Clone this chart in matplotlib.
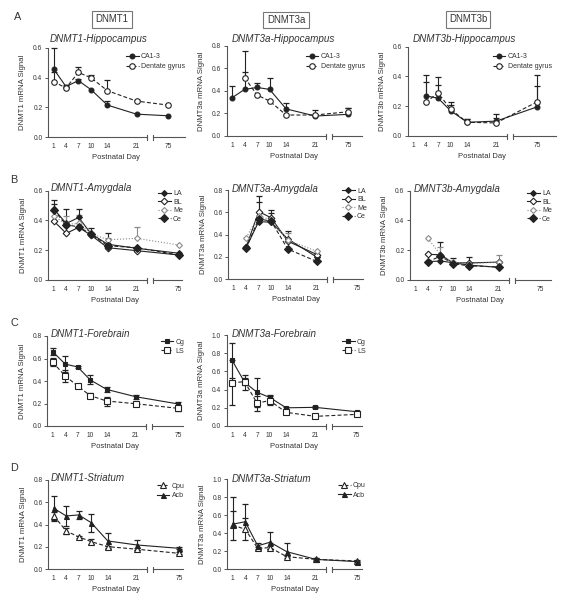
import numpy as np
import matplotlib
matplotlib.use("Agg")
import matplotlib.pyplot as plt
from matplotlib.patches import Rectangle

W, H = 566, 599
plt.rcParams['font.family'] = ['Liberation Sans', 'DejaVu Sans']

nan = np.nan
days = np.array([1, 4, 7, 10, 14, 21, 75], float)
tick_days = [1, 4, 7, 10, 14, 21, 75]
tick_labels = ['1', '4', '7', '10', '14', '21', '75']
headers = ['DNMT1', 'DNMT3a', 'DNMT3b']

# ---------- A: Hippocampus ----------
hip1_ca = [0.46, 0.34, 0.38, 0.32, 0.215, 0.154, 0.143]
hip1_ca_err = [0.14, 0.01, 0.01, 0.0, 0.03, 0.0, 0.0]
hip1_dg = [0.374, 0.33, 0.435, 0.40, 0.312, 0.242, 0.215]
hip1_dg_err = [0.066, 0.01, 0.04, 0.015, 0.07, 0.01, 0.0]

hip3a_ca = [0.34, 0.413, 0.43, 0.413, 0.24, 0.177, 0.192]
hip3a_ca_err = [0.10, 0.157, 0.04, 0.105, 0.055, 0.05, 0.06]
hip3a_dg = [nan, 0.517, 0.363, 0.31, 0.186, 0.186, 0.215]
hip3a_dg_err = [0, 0.24, 0.0, 0.0, 0.0, 0.0, 0.03]

hip3b_ca = [nan, 0.27, 0.254, 0.17, 0.092, 0.10, 0.196]
hip3b_ca_err = [0, 0.14, 0.086, 0.06, 0.02, 0.045, 0.14]
hip3b_dg = [nan, 0.226, 0.289, 0.18, 0.092, 0.088, 0.23]
hip3b_dg_err = [0, 0.134, 0.11, 0.03, 0.02, 0.03, 0.18]

# ---------- B: Amygdala ----------
amy1_la = [0.477, 0.38, 0.42, 0.31, 0.24, 0.213, 0.18]
amy1_la_err = [0.06, 0.097, 0.057, 0.037, 0.078, 0.0, 0.0]
amy1_bl = [0.396, 0.313, 0.354, 0.30, 0.217, 0.197, 0.168]
amy1_bl_err = [0, 0, 0, 0, 0, 0, 0]
amy1_me = [0.432, 0.374, 0.38, 0.313, 0.27, 0.28, 0.235]
amy1_me_err = [0.0, 0.056, 0.057, 0.0, 0.014, 0.074, 0.0]
amy1_ce = [0.47, 0.37, 0.358, 0.307, 0.23, 0.217, 0.168]
amy1_ce_err = [0.04, 0.0, 0.0, 0.0, 0.0, 0.0, 0.0]

amy3a_la = [nan, 0.284, 0.516, 0.51, 0.36, 0.197, nan]
amy3a_la_err = [0, 0.0, 0.23, 0.11, 0.07, 0.0, 0]
amy3a_bl = [nan, 0.29, 0.606, 0.55, 0.34, 0.22, nan]
amy3a_bl_err = [0, 0.0, 0.09, 0.04, 0.0, 0.0, 0]
amy3a_me = [nan, 0.373, 0.57, 0.53, 0.35, 0.248, nan]
amy3a_me_err = [0, 0.0, 0.0, 0.0, 0.06, 0.0, 0]
amy3a_ce = [nan, 0.28, 0.54, 0.52, 0.269, 0.158, nan]
amy3a_ce_err = [0, 0, 0, 0, 0, 0, 0]

amy3b_la = [nan, 0.123, 0.128, 0.116, 0.10, 0.085, nan]
amy3b_la_err = [0, 0.0, 0.13, 0.03, 0.0, 0.0, 0]
amy3b_bl = [nan, 0.172, 0.17, 0.116, 0.115, 0.12, nan]
amy3b_bl_err = [0, 0.0, 0.0, 0.0, 0.04, 0.0, 0]
amy3b_me = [nan, 0.28, 0.17, 0.12, 0.11, 0.12, nan]
amy3b_me_err = [0, 0.0, 0.054, 0.0, 0.0, 0.05, 0]
amy3b_ce = [nan, 0.123, 0.16, 0.11, 0.095, 0.088, nan]
amy3b_ce_err = [0, 0, 0, 0, 0, 0, 0]

# ---------- C: Forebrain ----------
fb1_cg = [0.66, 0.55, 0.525, 0.41, 0.325, 0.26, 0.196]
fb1_cg_err = [0.03, 0.07, 0.01, 0.04, 0.02, 0.02, 0.015]
fb1_ls = [0.566, 0.444, 0.356, 0.27, 0.222, 0.198, 0.157]
fb1_ls_err = [0.035, 0.05, 0.01, 0.02, 0.04, 0.01, 0.02]

fb3a_cg = [0.72, 0.48, 0.37, 0.315, 0.20, 0.205, 0.157]
fb3a_cg_err = [0.19, 0.08, 0.16, 0.03, 0.01, 0.01, 0.01]
fb3a_ls = [0.476, 0.487, 0.25, 0.28, 0.15, 0.106, 0.128]
fb3a_ls_err = [0.25, 0.04, 0.08, 0.045, 0.02, 0.01, 0.01]

# ---------- D: Striatum ----------
st1_cpu = [0.478, 0.343, 0.29, 0.248, 0.203, 0.18, 0.143]
st1_cpu_err = [0.035, 0.03, 0.01, 0.025, 0.01, 0.01, 0.01]
st1_acb = [0.546, 0.478, 0.487, 0.418, 0.254, 0.218, 0.188]
st1_acb_err = [0.11, 0.09, 0.035, 0.08, 0.07, 0.045, 0.01]

st3a_cpu = [0.49, 0.443, 0.232, 0.24, 0.14, 0.11, 0.092]
st3a_cpu_err = [0.16, 0.12, 0.02, 0.02, 0.02, 0.01, 0.01]
st3a_acb = [0.50, 0.527, 0.26, 0.30, 0.195, 0.11, 0.085]
st3a_acb_err_hi = [0.30, 0.20, 0.03, 0.11, 0.095, 0.01, 0.01]
st3a_acb_err_lo = [0.0, 0.0, 0.03, 0.08, 0.05, 0.0, 0.0]

INK = '#222222'
AXC = '#555555'
TXT = '#333333'
GREY = '#8a8a8a'
PXD = 4.15  # pixels per day in the linear part

fig = plt.figure(figsize=(W / 100, H / 100), dpi=100)


def make_funcs(p75):
    k = (p75 - 21.0) / 54.0

    def fwd(d):
        d = np.asarray(d, float)
        return np.where(d <= 21, d, 21 + (d - 21) * k)

    def inv(p):
        p = np.asarray(p, float)
        return np.where(p <= 21, p, 21 + (p - 21) / k)
    return fwd, inv


def panel(left, right, y0, ytop, ymax, p75, ylabel, title, tx, ty):
    w, h = right - left, y0 - ytop
    ax = fig.add_axes([left / W, 1 - y0 / H, w / W, h / H])
    fwd, inv = make_funcs(p75)
    ax.set_xscale('function', functions=(fwd, inv))
    pl = 1 - 5.5 / PXD
    pr = pl + w / PXD
    x0, x1 = float(inv(pl)), float(inv(pr))
    ax.set_xlim(x0, x1)
    ax.set_ylim(0, ymax)
    for s in ('top', 'right', 'bottom'):
        ax.spines[s].set_visible(False)
    ax.spines['left'].set_color(AXC)
    ax.spines['left'].set_linewidth(0.8)
    tr = ax.get_xaxis_transform()
    b0, b1 = float(inv(23.5)), float(inv(25.0))
    ax.plot([x0, b0], [0, 0], transform=tr, color=AXC, lw=0.8, clip_on=False)
    ax.plot([b1, x1], [0, 0], transform=tr, color=AXC, lw=0.8, clip_on=False)
    d = 2.5 / h
    for b in (b0, b1):
        ax.plot([b, b], [-d, d], transform=tr, color=AXC, lw=0.8, clip_on=False)
    ax.set_xticks(tick_days, tick_labels)
    ax.set_yticks(np.round(np.arange(0, ymax + 0.01, 0.2), 1))
    ax.set_yticklabels(['%.1f' % v for v in np.arange(0, ymax + 0.01, 0.2)])
    ax.tick_params(axis='x', length=0, pad=4, labelsize=4.8, labelcolor=TXT)
    ax.tick_params(axis='y', length=2, width=0.7, color=AXC, pad=2,
                   labelsize=4.8, labelcolor=TXT)
    ax.set_xlabel('Postnatal Day', fontsize=5.5, color=TXT, va='center')
    ax.xaxis.set_label_coords(0.5, -20.5 / h)
    ax.set_ylabel(ylabel, fontsize=5.6, color=TXT, va='center')
    ax.yaxis.set_label_coords(-25.0 / w, 0.5)
    fig.text(tx / W, 1 - ty / H, title, fontsize=7.1, style='italic',
             color=TXT, ha='left', va='center')
    ax.patch.set_visible(False)
    return ax


def series(ax, y, hi, lo, marker, mfc, mec, ms, ls, color, label, mew=0.8):
    y = np.asarray(y, float)
    hi = np.asarray(hi, float)
    lo = np.asarray(lo, float)
    ax.errorbar(days, y, yerr=[lo, hi], fmt='none', ecolor=color,
                elinewidth=0.8, capsize=0, zorder=2, clip_on=False)
    mh = hi > 0
    ax.plot(days[mh], (y + hi)[mh], ls='none', marker='_', ms=4.6, mew=0.9,
            color=color, zorder=2, clip_on=False)
    ml = lo > 0
    ax.plot(days[ml], (y - lo)[ml], ls='none', marker='_', ms=4.6, mew=0.9,
            color=color, zorder=2, clip_on=False)
    ax.plot(days, y, marker=marker, ms=ms, mfc=mfc, mec=mec, mew=mew,
            ls=ls, lw=0.8, color=color, label=label, zorder=3, clip_on=False)


def legend(ax, xl, yt, spacing):
    ax.legend(loc='upper left', bbox_to_anchor=(xl / W, 1 - yt / H),
              bbox_transform=fig.transFigure, frameon=False, fontsize=5,
              borderpad=0, borderaxespad=0, handlelength=1.8,
              handletextpad=0.35, labelspacing=spacing, numpoints=1,
              labelcolor=TXT)


DASH = (0, (3.5, 2))
ZERO = [0] * 7

# ----- headers and letters -----
for name, cx, cy in zip(headers, [112, 286, 468], [19.5, 20, 19.5]):
    fig.text(cx / W, 1 - cy / H, name, fontsize=6.9, color=TXT, ha='center',
             va='center', bbox=dict(boxstyle='square,pad=0.35', fc='white',
                                    ec='#777777', lw=0.8))
for letter, lx, ly in [('A', 18, 17), ('B', 14, 180), ('C', 14, 323), ('D', 14, 468)]:
    fig.text(lx / W, 1 - ly / H, letter, fontsize=7.8, color=TXT,
             ha='center', va='center')

# ----- Row A -----
ax = panel(48, 185, 137, 48, 0.6, 28.7, 'DNMT1 mRNA Signal', 'DNMT1-Hippocampus', 50, 39)
series(ax, hip1_ca, hip1_ca_err, ZERO, 'o', INK, INK, 3.5, '-', INK, 'CA1-3')
series(ax, hip1_dg, hip1_dg_err, ZERO, 'o', 'white', INK, 4.0, DASH, INK, 'Dentate gyrus')
legend(ax, 126, 53, 0.45)

ax = panel(226.7, 361.7, 136, 45.7, 0.8, 29.0, 'DNMT3a mRNA Signal', 'DNMT3a-Hippocampus', 231.7, 39)
series(ax, hip3a_ca, hip3a_ca_err, ZERO, 'o', INK, INK, 3.5, '-', INK, 'CA1-3')
series(ax, hip3a_dg, hip3a_dg_err, ZERO, 'o', 'white', INK, 4.0, DASH, INK, 'Dentate gyrus')
legend(ax, 305.7, 53, 0.45)

ax = panel(407.7, 556, 136, 46.7, 0.6, 30.9, 'DNMT3b mRNA Signal', 'DNMT3b-Hippocampus', 413, 39)
series(ax, hip3b_ca, hip3b_ca_err, ZERO, 'o', INK, INK, 3.5, '-', INK, 'CA1-3')
series(ax, hip3b_dg, hip3b_dg_err, ZERO, 'o', 'white', INK, 4.0, DASH, INK, 'Dentate gyrus')
legend(ax, 492.7, 53, 0.45)


# ----- Row B -----
def amy(ax, la, la_e, bl, bl_e, me, me_e, ce, ce_e):
    series(ax, la, la_e, ZERO, 'D', INK, INK, 3.0, '-', INK, 'LA')
    series(ax, bl, bl_e, ZERO, 'D', 'white', INK, 3.4, '-', INK, 'BL')
    series(ax, me, me_e, ZERO, 'D', 'white', GREY, 3.0, ':', GREY, 'Me')
    series(ax, ce, ce_e, ZERO, 'D', INK, INK, 4.0, DASH, INK, 'Ce')


ax = panel(48.3, 182, 280, 190.7, 0.6, 31.1, 'DNMT1 mRNA Signal', 'DMNT1-Amygdala', 50.7, 187.7)
amy(ax, amy1_la, amy1_la_err, amy1_bl, amy1_bl_err, amy1_me, amy1_me_err, amy1_ce, amy1_ce_err)
legend(ax, 158, 190, 0.22)

ax = panel(228.3, 363, 279, 190, 0.8, 30.8, 'DNMT3a mRNA Signal', 'DMNT3a-Amygdala', 231.7, 189)
amy(ax, amy3a_la, amy3a_la_err, amy3a_bl, amy3a_bl_err, amy3a_me, amy3a_me_err, amy3a_ce, amy3a_ce_err)
legend(ax, 342, 187.5, 0.22)

ax = panel(410, 551, 280, 190.7, 0.6, 31.1, 'DNMT3b mRNA Signal', 'DMNT3b-Amygdala', 413.3, 189.3)
amy(ax, amy3b_la, amy3b_la_err, amy3b_bl, amy3b_bl_err, amy3b_me, amy3b_me_err, amy3b_ce, amy3b_ce_err)
legend(ax, 527, 190, 0.22)

# ----- Row C -----
ax = panel(47.3, 183, 426, 336, 0.8, 31.2, 'DNMT1 mRNA Signal', 'DNMT1-Forebrain', 50.7, 334)
series(ax, fb1_cg, fb1_cg_err, fb1_cg_err, 's', INK, INK, 3.3, '-', INK, 'Cg')
series(ax, fb1_ls, fb1_ls_err, fb1_ls_err, 's', 'white', INK, 3.8, DASH, INK, 'LS')
legend(ax, 160.7, 338.5, 0.3)

ax = panel(226.7, 362, 426, 335, 1.0, 31.0, 'DNMT3a mRNA Signal', 'DNMT3a-Forebrain', 231.7, 334)
series(ax, fb3a_cg, fb3a_cg_err, fb3a_cg_err, 's', INK, INK, 3.3, '-', INK, 'Cg')
series(ax, fb3a_ls, fb3a_ls_err, fb3a_ls_err, 's', 'white', INK, 3.8, DASH, INK, 'LS')
legend(ax, 342, 338.5, 0.3)

# ----- Row D -----
ax = panel(48.3, 183, 569.3, 480, 0.8, 31.2, 'DNMT1 mRNA Signal', 'DNMT1-Striatum', 50.7, 478.3)
series(ax, st1_cpu, st1_cpu_err, st1_cpu_err, '^', 'white', INK, 4.0, DASH, INK, 'Cpu')
series(ax, st1_acb, st1_acb_err, st1_acb_err, '^', INK, INK, 3.6, '-', INK, 'Acb')
legend(ax, 157, 482.5, 0.4)

ax = panel(227.3, 362, 569.3, 479, 1.0, 31.0, 'DNMT3a mRNA Signal', 'DNMT3a-Striatum', 231.7, 479)
series(ax, st3a_cpu, st3a_cpu_err, st3a_cpu_err, '^', 'white', INK, 4.0, DASH, INK, 'Cpu')
series(ax, st3a_acb, st3a_acb_err_hi, st3a_acb_err_lo, '^', INK, INK, 3.6, '-', INK, 'Acb')
legend(ax, 338, 482, 0.4)

fig.savefig('out.png', dpi=100)
